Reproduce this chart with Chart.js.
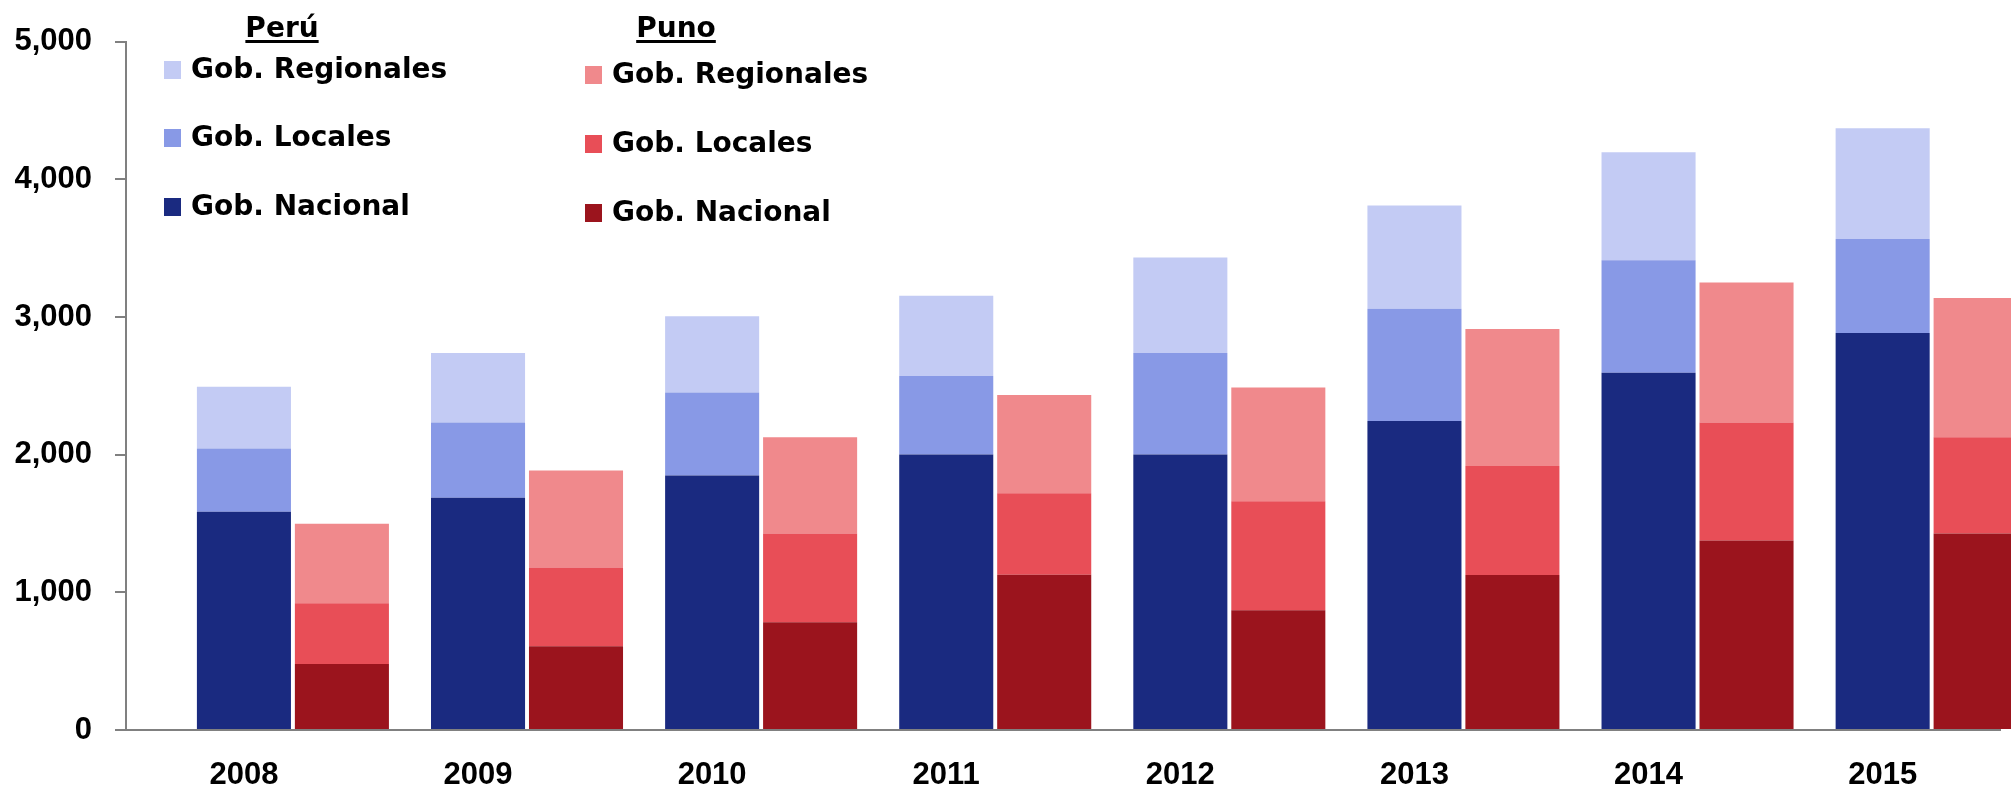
<!doctype html>
<html lang="es">

<head>
    <meta charset="utf-8">
    <title>Gasto Perú vs Puno</title>
    <script src="https://cdn.jsdelivr.net/npm/chart.js"></script>
    <style>
        html, body { margin: 0; padding: 0; background: #fff; overflow: hidden; }
        #myChart { display: block; }
    </style>
</head>

<body>
    <canvas id="myChart" width="2011" height="787"></canvas>
    <script>
        // years on the x axis
        const years = [2008, 2009, 2010, 2011, 2012, 2013, 2014, 2015];

        // Perú (left bar of each year)
        const peruNacional = [1585, 1686, 1848, 2001, 2001, 2245, 2595, 2884];
        const peruLocales = [460, 547, 604, 571, 737, 815, 817, 683];
        const peruRegionales = [448, 505, 554, 582, 693, 750, 785, 804];

        // Puno (right bar of each year)
        const punoNacional = [479, 609, 783, 1127, 870, 1126, 1376, 1427];
        const punoLocales = [441, 571, 644, 592, 792, 792, 858, 699];
        const punoRegionales = [578, 704, 699, 715, 826, 994, 1017, 1011];

        const yTicks = [0, 1000, 2000, 3000, 4000, 5000];
        const seriesNames = ['Gob. Nacional', 'Gob. Locales', 'Gob. Regionales'];
        const groupNames = ['Perú', 'Puno'];

        const peruColors = ['#1A2A80', '#8899E6', '#C3CBF4'];
        const punoColors = ['#9B141D', '#E84E57', '#F0898C'];

        function makeSet(label, data, color, stack) {
            return {
                label: label,
                data: data,
                backgroundColor: color,
                borderWidth: 0,
                stack: stack,
                clip: false,
                categoryPercentage: 0.837,
                barPercentage: 0.96
            };
        }

        const datasets = [
            makeSet(seriesNames[0], peruNacional, peruColors[0], groupNames[0]),
            makeSet(seriesNames[1], peruLocales, peruColors[1], groupNames[0]),
            makeSet(seriesNames[2], peruRegionales, peruColors[2], groupNames[0]),
            makeSet(seriesNames[0], punoNacional, punoColors[0], groupNames[1]),
            makeSet(seriesNames[1], punoLocales, punoColors[1], groupNames[1]),
            makeSet(seriesNames[2], punoRegionales, punoColors[2], groupNames[1])
        ];

        //---------------------------------------------------------
        // two column legend with underlined group headers
        //---------------------------------------------------------
        const legendLayout = [
            { headX: 282, boxX: 164, rows: [70, 138, 207] },
            { headX: 676, boxX: 585, rows: [75, 144, 213] }
        ];

        const twoColumnLegend = {
            id: 'twoColumnLegend',
            afterDraw(chart) {
                const ctx = chart.ctx;
                ctx.save();
                groupNames.forEach(function (name, gi) {
                    const lay = legendLayout[gi];
                    ctx.font = 'bold 28px "DejaVu Sans"';
                    ctx.fillStyle = '#000';
                    ctx.textAlign = 'center';
                    ctx.textBaseline = 'alphabetic';
                    ctx.fillText(name, lay.headX, 37);
                    const w = ctx.measureText(name).width;
                    ctx.fillRect(lay.headX - w / 2, 40, w, 3);

                    // top row is Regionales, bottom is Nacional
                    const sets = chart.data.datasets.filter(d => d.stack === name).slice().reverse();
                    sets.forEach(function (ds, i) {
                        const cy = lay.rows[i];
                        ctx.fillStyle = ds.backgroundColor;
                        ctx.fillRect(lay.boxX, cy - 9, 17, 18);
                        ctx.fillStyle = '#000';
                        ctx.font = 'bold 28px "DejaVu Sans"';
                        ctx.textAlign = 'left';
                        ctx.textBaseline = 'middle';
                        ctx.fillText(ds.label, lay.boxX + 27, cy + 1);
                    });
                });
                ctx.restore();
            }
        };

        const ctx = document.getElementById('myChart').getContext('2d');
        const myChart = new Chart(ctx, {
            type: 'bar',
            data: {
                labels: years,
                datasets: datasets
            },
            options: {
                responsive: false,
                animation: false,
                devicePixelRatio: 1,
                layout: {
                    padding: { top: 38, right: 11, left: 0, bottom: 0 }
                },
                plugins: {
                    legend: { display: false },
                    tooltip: { enabled: false }
                },
                scales: {
                    x: {
                        type: 'linear',
                        stacked: true,
                        offset: false,
                        min: years[0] - 0.713,
                        max: years[years.length - 1] + 0.292,
                        grid: { display: false, drawTicks: false },
                        border: { display: true, color: '#808080', width: 2 },
                        afterFit: function (scale) { scale.height = 57; },
                        afterBuildTicks: function (scale) {
                            scale.ticks = years.map(v => ({ value: v }));
                        },
                        ticks: {
                            autoSkip: false,
                            maxRotation: 0,
                            padding: 27,
                            labelOffset: -49,
                            color: '#000',
                            font: { family: '"Liberation Sans"', size: 31, weight: 'bold' },
                            callback: function (v) { return String(v); }
                        }
                    },
                    y: {
                        stacked: true,
                        min: yTicks[0],
                        max: yTicks[yTicks.length - 1],
                        afterFit: function (scale) { scale.width = 126; },
                        afterBuildTicks: function (scale) {
                            scale.ticks = yTicks.map(v => ({ value: v }));
                        },
                        grid: {
                            display: true,
                            drawOnChartArea: false,
                            drawTicks: true,
                            tickLength: 11,
                            color: '#808080',
                            lineWidth: 2
                        },
                        border: { display: true, color: '#808080', width: 2 },
                        ticks: {
                            padding: 23,
                            color: '#000',
                            font: { family: '"Liberation Sans"', size: 31, weight: 'bold' },
                            callback: function (v) { return v.toLocaleString('en-US'); }
                        }
                    }
                }
            },
            plugins: [twoColumnLegend]
        });
    </script>
</body>

</html>
